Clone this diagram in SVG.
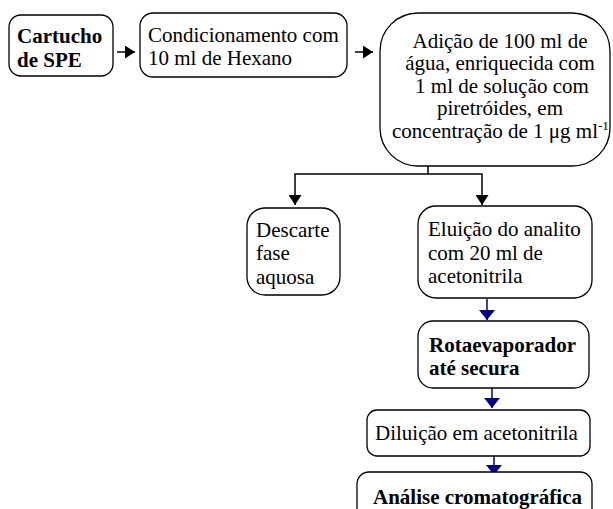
<svg xmlns="http://www.w3.org/2000/svg" width="613" height="509" viewBox="0 0 613 509">
<style>
.box{fill:#fff;stroke:#000;stroke-width:1.3}
.t{font-family:"Liberation Serif","Times New Roman",serif;font-size:21px;fill:#000}
.b{font-weight:bold}
.k{stroke:#000;stroke-width:1.5;fill:none}
.n{stroke:#000080;stroke-width:1.5;fill:none}
</style>
<defs>
<marker id="ak" viewBox="0 0 10 13" refX="10" refY="6.5" markerWidth="10" markerHeight="13" markerUnits="userSpaceOnUse" orient="auto"><path d="M0,0L10,6.5L0,13z" fill="#000"/></marker>
<marker id="an" viewBox="0 0 10 16" refX="10" refY="8" markerWidth="10" markerHeight="16" markerUnits="userSpaceOnUse" orient="auto"><path d="M0,0L10,8L0,16z" fill="#000080"/></marker>
</defs>
<rect width="613" height="509" fill="#fff"/>
<g id="connectors">
<line class="k" x1="117" y1="52" x2="135" y2="52" marker-end="url(#ak)"/>
<line class="k" x1="355" y1="52" x2="373" y2="52" marker-end="url(#ak)"/>
<path class="k" d="M428,166V174H295V205" marker-end="url(#ak)"/>
<path class="k" d="M428,174H482V205" marker-end="url(#ak)"/>
<line class="n" x1="487" y1="299" x2="487" y2="320" marker-end="url(#an)"/>
<line class="n" x1="492" y1="388" x2="492" y2="408" marker-end="url(#an)"/>
<line class="n" x1="494" y1="456" x2="494" y2="475" marker-end="url(#an)"/>
</g>
<g id="n1">
<rect class="box" x="9" y="15" width="104" height="61" rx="12"/>
<text class="t b" x="17" y="43">Cartucho</text>
<text class="t b" x="17" y="67">de SPE</text>
</g>
<g id="n2">
<rect class="box" x="140" y="13" width="207" height="64" rx="13"/>
<text class="t" x="148" y="42">Condicionamento com</text>
<text class="t" x="148" y="65">10 ml de Hexano</text>
</g>
<g id="n3">
<rect class="box" x="380" y="13" width="230" height="153" rx="38"/>
<text class="t" x="500" y="48" text-anchor="middle">Adição de 100 ml de</text>
<text class="t" x="500" y="70" text-anchor="middle">água, enriquecida com</text>
<text class="t" x="502" y="93" text-anchor="middle">1 ml de solução com</text>
<text class="t" x="500" y="115" text-anchor="middle">piretróides, em</text>
<text class="t" x="392" y="138">concentração de 1 μg ml<tspan font-size="13" dy="-8">-1</tspan></text>
</g>
<g id="n4">
<rect class="box" x="247" y="208" width="93" height="87" rx="18"/>
<text class="t" x="256" y="237">Descarte</text>
<text class="t" x="256" y="260">fase</text>
<text class="t" x="256" y="284">aquosa</text>
</g>
<g id="n5">
<rect class="box" x="418" y="206" width="174" height="92" rx="18"/>
<text class="t" x="428" y="236">Eluição do analito</text>
<text class="t" x="428" y="260">com 20 ml de</text>
<text class="t" x="428" y="283">acetonitrila</text>
</g>
<g id="n6">
<rect class="box" x="418" y="321" width="171" height="67" rx="15"/>
<text class="t b" x="429" y="352">Rotaevaporador</text>
<text class="t b" x="429" y="375">até secura</text>
</g>
<g id="n7">
<rect class="box" x="367" y="410" width="223" height="46" rx="10"/>
<text class="t" x="375" y="440">Diluição em acetonitrila</text>
</g>
<g id="n8">
<rect class="box" x="357" y="472" width="235" height="60" rx="12"/>
<text class="t b" x="373" y="504">Análise cromatográfica</text>
</g>
</svg>
